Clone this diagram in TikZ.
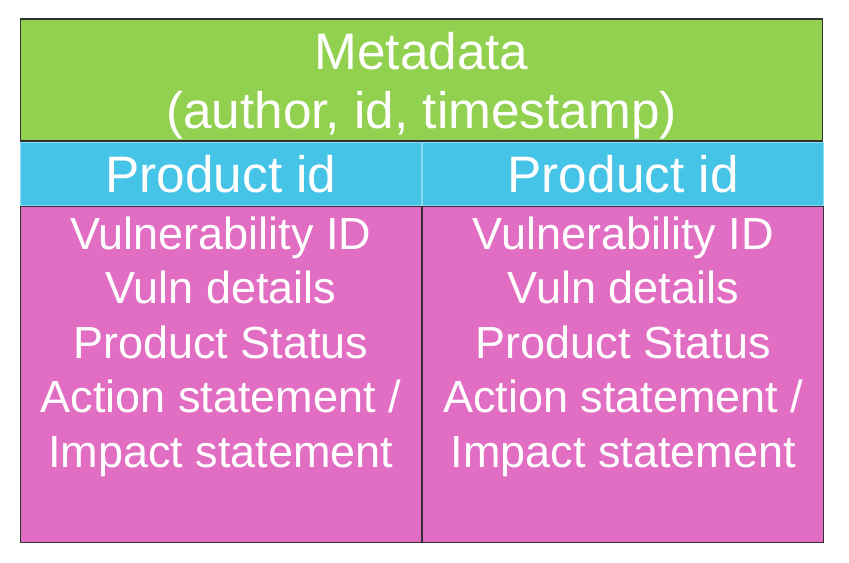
\documentclass[tikz,border=0pt]{standalone}
\usepackage{fontspec}
\setmainfont{Liberation Sans}
\usetikzlibrary{positioning}
\definecolor{metagreen}{RGB}{146,208,80}
\definecolor{headblue}{RGB}{69,196,232}
\definecolor{headline}{RGB}{140,220,242}
\definecolor{vulnpink}{RGB}{226,110,196}
\definecolor{edgegray}{RGB}{50,50,50}
\tikzset{boxtext/.style={text=white, font=\fontsize{32}{38.8}\selectfont, align=center},
  bigtext/.style={text=white, font=\fontsize{36.5}{41.5}\selectfont, align=center}}

\begin{document}
\begin{tikzpicture}[
    x=0.025cm, y=-0.025cm,
    metabox/.style={rectangle, draw=edgegray, line width=0.8pt, fill=metagreen, inner sep=0pt, minimum width=20.05cm, minimum height=3.05cm},
    headcell/.style={rectangle, draw=headline, line width=0.8pt, fill=headblue, inner sep=0pt, minimum width=10.025cm, minimum height=1.575cm, bigtext},
    vulncell/.style={rectangle, draw=edgegray, line width=0.8pt, fill=vulnpink, inner sep=0pt, minimum width=10.025cm, minimum height=8.4cm}
]
\useasboundingbox (0,0) rectangle (849,562);

% Boxes
\node[metabox] (meta) at (421.5,80) {};
\node[headcell, anchor=north west] (headL) at (meta.south west) {Product id};
\node[headcell] (headR) [right=0pt of headL] {Product id};
\node[vulncell, anchor=north west] (vulnL) at (headL.south west) {};
\node[vulncell] (vulnR) [right=0pt of vulnL] {};

% Cell texts
\node[bigtext] (metatext) at ([yshift=-0.14cm]meta.center) {Metadata\\(author, id, timestamp)};
\node[boxtext] (textL) at ([yshift=0.69cm]vulnL.center) {Vulnerability ID\\Vuln details\\Product Status\\Action statement /\\Impact statement};
\node[boxtext] (textR) at ([yshift=0.69cm]vulnR.center) {Vulnerability ID\\Vuln details\\Product Status\\Action statement /\\Impact statement};

\end{tikzpicture}
\end{document}
